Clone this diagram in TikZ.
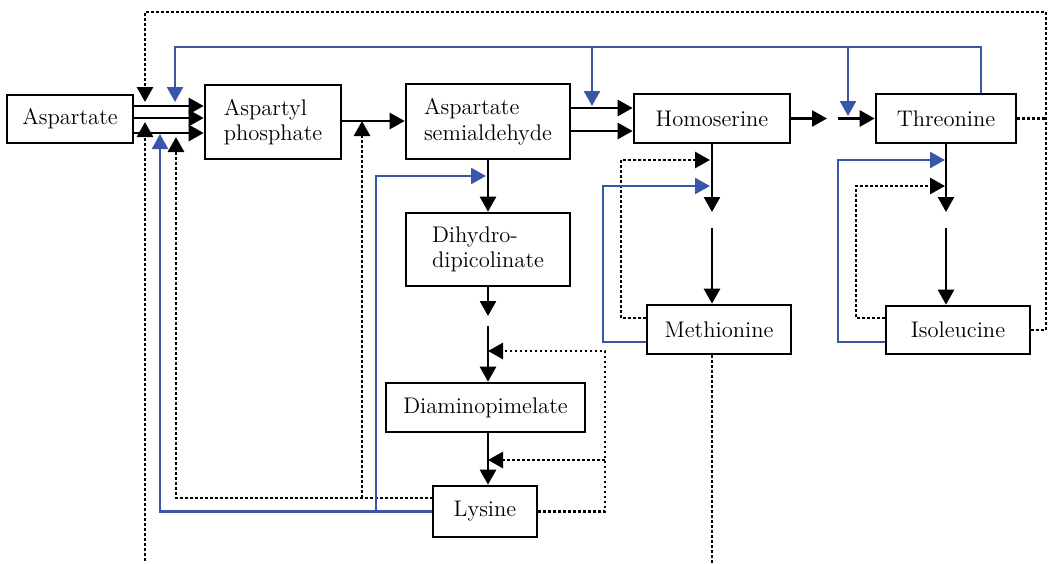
\documentclass[tikz,border=0pt]{standalone}
\usepackage{tikz}
\usetikzlibrary{positioning}
\usetikzlibrary{arrows.meta}
\definecolor{regblue}{RGB}{58,86,168}

\begin{document}
\begin{tikzpicture}[x=0.5pt,y=-0.5pt,
    box/.style={draw,line width=1.3pt,inner sep=0pt,align=left,font=\fontsize{11.3}{12.8}\selectfont},
    flow/.style={line width=1.3pt,-{Triangle[length=7.5pt,width=8pt]}},
    inh/.style={line width=1.4pt,dash pattern=on 1.3pt off 1.2pt},
    inharr/.style={inh,-{Triangle[length=7.5pt,width=8pt]}},
    bluarr/.style={regblue,line width=1.2pt,-{Triangle[length=7.5pt,width=8pt]}}]
  \useasboundingbox (0,0) rectangle (1049,563);

  \node[box,minimum width=63pt,minimum height=24pt] (asp) at (70,119) {Aspartate};
  \node[box,minimum width=68pt,minimum height=37pt] (aspp) at (273,122) {Aspartyl\\phosphate};
  \node[box,minimum width=82pt,minimum height=37.5pt] (sem) at (488,121.5) {Aspartate\\semialdehyde};
  \node[box,minimum width=82pt,minimum height=36.5pt] (dih) at (488,249.5) {Dihydro-\\dipicolinate};
  \node[box,minimum width=99.5pt,minimum height=24.5pt] (dap) at (485.5,407.5) {Diaminopimelate};
  \node[box,minimum width=52pt,minimum height=25.5pt] (lys) at (485,511.5) {Lysine};
  \node[box,minimum width=78pt,minimum height=24.5pt] (hom) at (712,118.5) {Homoserine};
  \node[box,minimum width=70pt,minimum height=24.5pt] (thr) at (946,118.5) {Threonine};
  \node[box,minimum width=72pt,minimum height=24.5pt] (met) at (719,329.5) {Methionine};
  \node[box,minimum width=72pt,minimum height=24pt] (iso) at (958,330) {Isoleucine};

  \coordinate (j1a) at (145,102);
  \coordinate (j1b) at (175,102);
  \coordinate (j1c) at (145,122);
  \coordinate (j1d) at (160,134);
  \coordinate (j1e) at (176,137);
  \coordinate (j2) at (362,121);
  \coordinate (j3) at (486,176);
  \coordinate (j4) at (592,106);
  \coordinate (j5) at (848,116);
  \coordinate (fbr) at (1046,12);
  \coordinate (fbb) at (145,561);
  \coordinate (btl) at (175,47);
  \coordinate (btr) at (981,47);
  \coordinate (lb) at (376,511);
  \coordinate (ldot) at (433,498);
  \coordinate (d1) at (488,316);
  \coordinate (d2) at (488,326);
  \coordinate (rd) at (605,351);
  \coordinate (rd2) at (605,460);
  \coordinate (h1) at (827,118.5);
  \coordinate (h2) at (838,118.5);
  \coordinate (m1) at (712,212);
  \coordinate (m2) at (712,228);
  \coordinate (mdot) at (710,160);
  \coordinate (mblu) at (710,186);
  \coordinate (mdc) at (621,318);
  \coordinate (mbc) at (603,342);
  \coordinate (mbot) at (712,563);
  \coordinate (t1) at (946,212);
  \coordinate (t2) at (946,228);
  \coordinate (tblu) at (945,160);
  \coordinate (tdot) at (945,186);
  \coordinate (tbc) at (838,342);
  \coordinate (tdc) at (856,318);

  \foreach \y in {106,118,133}
    \draw[flow] (asp.east |- 0,\y) -- (aspp.west |- 0,\y);
  \draw[flow] (aspp.east |- j2) -- (sem.west |- j2);
  \draw[flow] (sem.east |- 0,108) -- (hom.west |- 0,108);
  \draw[flow] (sem.east |- 0,131) -- (hom.west |- 0,131);
  \draw[flow] (sem.south) -- (dih.north);
  \draw[flow] (dih.south) -- (d1);
  \draw[flow] (d2) -- (dap.north -| d2);
  \draw[flow] (dap.south -| d2) -- (lys.north -| d2);
  \draw[flow] (hom.east) -- (h1);
  \draw[flow] (h2) -- (thr.west);
  \draw[flow] (hom.south) -- (m1);
  \draw[flow] (m2) -- (met.north -| m2);
  \draw[flow] (thr.south) -- (t1);
  \draw[flow] (t2) -- (iso.north -| t2);

  \draw[inh] (thr.east) -- (thr.east -| fbr);
  \draw[inharr] (iso.east) -| (fbr) -| (j1a);
  \draw[inharr] (fbb) -- (j1c);
  \draw[inharr] (ldot) -| (j1e);
  \draw[inharr] (j2 |- ldot) -- (j2);
  \draw[inharr] (lys.east) -| (rd) -- (rd -| d1);
  \draw[inharr] (rd2) -- (rd2 -| d1);
  \draw[inharr] (met.west |- mdc) -- (mdc) |- (mdot);
  \draw[inh] (met.south -| mbot) -- (mbot);
  \draw[inharr] (iso.west |- tdc) -- (tdc) |- (tdot);

  \draw[bluarr] (thr.north -| btr) -- (btr) -- (btl) -- (j1b);
  \draw[bluarr] (j4 |- btl) -- (j4);
  \draw[bluarr] (j5 |- btl) -- (j5);
  \draw[bluarr] (lys.west) -| (j1d);
  \draw[bluarr] (lb) |- (j3);
  \draw[bluarr] (met.west |- mbc) -- (mbc) |- (mblu);
  \draw[bluarr] (iso.west |- tbc) -- (tbc) |- (tblu);
\end{tikzpicture}
\end{document}
